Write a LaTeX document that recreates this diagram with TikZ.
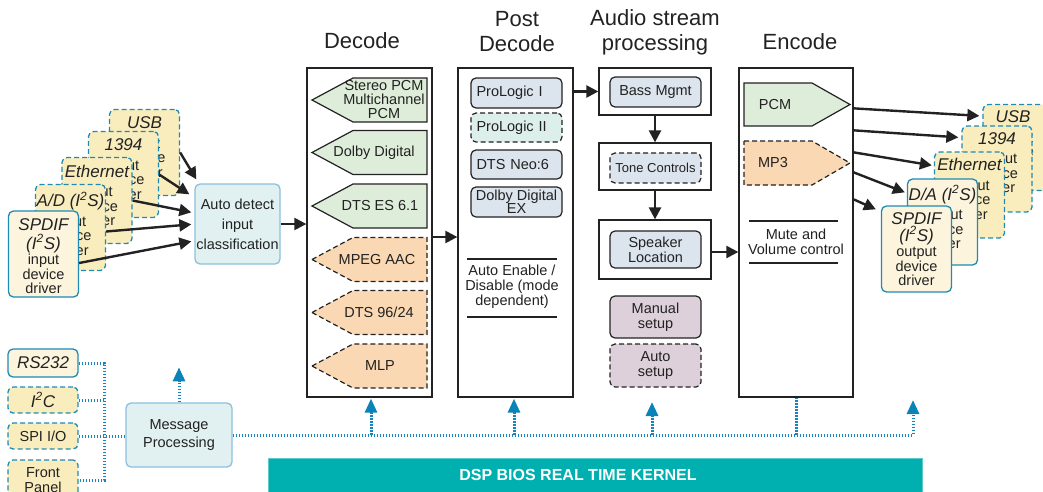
\documentclass[tikz,border=0pt]{standalone}
\usepackage{fontspec}
\setmainfont{Liberation Sans}
\usetikzlibrary{arrows.meta,calc}
\definecolor{cardyellow}{HTML}{F9EDBE}
\definecolor{cardcream}{HTML}{FCF4DC}
\definecolor{cardblue}{HTML}{1E8BB5}
\definecolor{lcyan}{HTML}{E1F0F0}
\definecolor{lblue}{HTML}{8CC0E0}
\definecolor{pgreen}{HTML}{DEEDD9}
\definecolor{porange}{HTML}{FAD8B3}
\definecolor{postblue}{HTML}{DCE4EE}
\definecolor{postgreen}{HTML}{DDEFEA}
\definecolor{mauve}{HTML}{DED0DB}
\definecolor{kteal}{HTML}{00AFAF}
\definecolor{kborder}{HTML}{5CC8C8}
\definecolor{dotblue}{HTML}{1884BC}
\definecolor{tipblue}{HTML}{0A84B8}
\definecolor{ink}{HTML}{222222}
\newcommand\ctitle{\fontsize{17}{18}\selectfont\itshape}
\begin{document}
\begin{tikzpicture}[x=1pt,y=-1pt,
  font=\fontsize{14.5}{15.5}\selectfont, text=ink,
  card/.style={draw=cardblue, line width=1.3pt, rounded corners=5pt, minimum width=70pt, minimum height=86pt, inner sep=0pt},
  dcard/.style={card, dashed, dash pattern=on 5pt off 3pt, fill=cardyellow},
  scard/.style={card, fill=cardcream},
  clabel/.style={anchor=north, align=center, inner sep=0pt, font=\fontsize{14.5}{14.5}\selectfont},
  ttl/.style={font=\fontsize{17}{18}\selectfont\itshape},
  blk/.style={draw=ink, line width=2.4pt, -{Triangle[width=12pt,length=12pt]}},
  bus/.style={draw=dotblue, line width=3pt, dash pattern=on 1.8pt off 1.2pt},
  busarrow/.style={bus, -{Triangle[width=12pt,length=14pt,color=tipblue]}},
  col/.style={draw=ink, line width=1.3pt, inner sep=0pt, minimum height=329pt, fill=white},
  gp/.style={draw=ink, line width=1.2pt, fill=pgreen},
  op/.style={draw=ink, line width=1.2pt, fill=porange, dash pattern=on 5pt off 3pt},
  pitem/.style={draw=ink, line width=1.2pt, rounded corners=5pt, fill=postblue, minimum width=91pt, inner sep=0pt},
  abox/.style={draw=ink, line width=1.3pt, minimum width=112pt, inner sep=0pt},
  soft/.style={draw=lblue, line width=1.3pt, rounded corners=5pt, fill=lcyan, inner sep=0pt, align=center},
  small/.style={draw=cardblue, line width=1.3pt, rounded corners=5pt, minimum width=70pt, inner sep=0pt},
  ttext/.style={font=\fontsize{22}{25}\selectfont, align=center}
]
\useasboundingbox (0,0) rectangle (1043,491);
\clip (0,0) rectangle (1043,491);

% titles
\node[ttext] (tdec) at (362,41) {Decode};
\node[ttext] (tpost) at (517,32) {Post\\Decode};
\node[ttext] (taud) at (655,32) {Audio stream\\processing};
\node[ttext] (tenc) at (800,42) {Encode};

% input cards
\node[dcard] (iUSB) at (144.5,152.5) {};
\node[clabel] (lUSB) at ([yshift=-8]iUSB.north) {{\ctitle USB}\\[5pt]input\\device\\driver};
\node[dcard] (i1394) at (123.5,174.5) {};
\node[clabel] (l1394) at ([yshift=-8]i1394.north) {{\ctitle 1394}\\[5pt]input\\device\\driver};
\node[dcard] (iEth) at (97,200.5) {};
\node[clabel] (lEth) at ([yshift=-8]iEth.north) {{\ctitle Ethernet}\\[5pt]input\\device\\driver};
\node[dcard] (iAD) at (70.5,227.5) {};
\node[clabel] (lAD) at ([yshift=-8]iAD.north) {{\ctitle A/D (I\textsuperscript{2}S)}\\[5pt]input\\device\\driver};
\node[scard] (iSP) at (43.5,254) {};
\node[clabel] (lSP) at ([yshift=-8]iSP.north) {{\ctitle SPDIF}\\[3pt]{\ctitle (I\textsuperscript{2}S)}\\[1pt]input\\device\\driver};

% auto detect
\node[soft, minimum width=85pt, minimum height=80pt, font=\fontsize{14.5}{20}\selectfont] (auto) at (237.5,224) {Auto detect\\input\\classification};

\draw[blk] (iUSB.east) -- ($(auto.north west)+(2,-4)$);
\draw[blk] (i1394.east) -- ($(auto.north west)+(-5,11)$);
\draw[blk] (iEth.east) -- ($(auto.north west)+(-3,29)$);
\draw[blk] ([yshift=-4]iAD.east) -- ($(auto.north west)+(-3,41)$);
\draw[blk] ([yshift=-9]iSP.east) -- ($(auto.north west)+(-3,58)$);

% columns
\node[col, minimum width=125pt] (dec) at (369.5,232.5) {};
\node[col, minimum width=115pt] (post) at (515.5,232.5) {};
\node[col, minimum width=114pt] (enc) at (796,232.5) {};

\draw[blk] (auto.east) -- (auto.east -| dec.west);
\draw[blk] ([yshift=-4.5]dec.east) -- ([yshift=-4.5]post.west);

% decode items
\draw[gp] (312,100) -- (353,78) -- (427,78) -- (427,122) -- (353,122) -- cycle;
\node[align=center, font=\fontsize{14.5}{14}\selectfont] (dpcm) at (384,100) {Stereo PCM\\Multichannel\\PCM};
\draw[gp] (312,152.5) -- (353,130.5) -- (427,130.5) -- (427,174.5) -- (353,174.5) -- cycle;
\node (ddd) at (374,152.5) {Dolby Digital};
\draw[gp] (312,206) -- (353,184) -- (427,184) -- (427,228) -- (353,228) -- cycle;
\node (ddts) at (380,206) {DTS ES 6.1};
\draw[op] (312,259.5) -- (353,237.5) -- (427,237.5) -- (427,281.5) -- (353,281.5) -- cycle;
\node (daac) at (377,259.5) {MPEG AAC};
\draw[op] (312,312.5) -- (353,290.5) -- (427,290.5) -- (427,334.5) -- (353,334.5) -- cycle;
\node (d96) at (379,312.5) {DTS 96/24};
\draw[op] (312,366) -- (353,344) -- (427,344) -- (427,388) -- (353,388) -- cycle;
\node (dmlp) at (380,366) {MLP};

% post decode items
\node[pitem, minimum height=30pt, text width=80pt, align=left] (pl1) at (516.5,93) {ProLogic I};
\node[pitem, minimum height=29pt, text width=80pt, align=left, dashed, dash pattern=on 5pt off 3pt, fill=postgreen] (pl2) at (516.5,127.5) {ProLogic II};
\node[pitem, minimum height=29pt, text width=80pt, align=left] (neo) at (516.5,164.5) {DTS Neo:6};
\node[pitem, minimum height=30pt, align=center, font=\fontsize{14.5}{13}\selectfont] (ddex) at (516.5,202) {Dolby Digital\\EX};
\draw[draw=ink, line width=1.2pt] (467,259) -- (557,259);
\draw[draw=ink, line width=1.2pt] (467,317) -- (557,317);
\node[align=center, font=\fontsize{14.5}{15}\selectfont] (autoen) at (512,287) {Auto Enable /\\Disable (mode\\dependent)};

% audio stream processing
\node[abox, minimum height=47pt] (a1) at (655,91.5) {};
\node[pitem, minimum height=30pt] (bass) at (655.5,92) {Bass Mgmt};
\node[abox, minimum height=47pt] (a2) at (655,166.5) {};
\node[pitem, minimum height=30pt, dashed, dash pattern=on 5pt off 3pt, font=\fontsize{13}{14}\selectfont] (tone) at (655.5,168) {Tone Controls};
\node[abox, minimum height=59pt] (a3) at (655,249.5) {};
\node[pitem, minimum height=37pt, align=center, font=\fontsize{14.5}{15}\selectfont] (spk) at (655.5,249.5) {Speaker\\Location};
\node[pitem, minimum height=42pt, fill=mauve, align=center, font=\fontsize{14.5}{15}\selectfont] (manual) at (655.5,317) {Manual\\setup};
\node[pitem, minimum height=43pt, fill=mauve, dashed, dash pattern=on 5pt off 3pt, align=center, font=\fontsize{14.5}{15}\selectfont] (autos) at (655.5,365.5) {Auto\\setup};

\draw[blk] (post.east |- a1.west) -- (a1.west);
\draw[blk] (a1.south) -- (a2.north);
\draw[blk] (a2.south) -- (a3.north);
\draw[blk] ([yshift=-2.5]a3.east) -- ([yshift=-2.5]a3.east -| enc.west);

% encode items
\draw[gp] (744,83) -- (812,83) -- (850,104.5) -- (812,126) -- (744,126) -- cycle;
\node (epcm) at (775,104.5) {PCM};
\draw[op] (744,141) -- (812,141) -- (850,163) -- (812,185) -- (744,185) -- cycle;
\node (emp3) at (773,163) {MP3};
\draw[draw=ink, line width=1.2pt] (749,221) -- (838,221);
\draw[draw=ink, line width=1.2pt] (749,263) -- (838,263);
\node[align=center, font=\fontsize{14.5}{15}\selectfont] (mute) at (796,242) {Mute and\\Volume control};

% output cards
\node[dcard] (oUSB) at (1018,147.5) {};
\node[clabel] (loUSB) at ([yshift=-7,xshift=-5]oUSB.north) {{\ctitle USB}\\[5pt]output\\device\\driver};
\node[dcard] (o1394) at (997,169) {};
\node[clabel] (lo1394) at ([yshift=-7]o1394.north) {{\ctitle 1394}\\[5pt]output\\device\\driver};
\node[dcard] (oEth) at (969.5,195) {};
\node[clabel] (loEth) at ([yshift=-7]oEth.north) {{\ctitle Ethernet}\\[5pt]output\\device\\driver};
\node[scard] (oDA) at (942.5,222) {};
\node[clabel] (loDA) at ([yshift=-7]oDA.north) {{\ctitle D/A (I\textsuperscript{2}S)}\\[5pt]output\\device\\driver};
\node[scard] (oSP) at (916.5,249) {};
\node[clabel] (loSP) at ([yshift=-7]oSP.north) {{\ctitle SPDIF}\\[1pt]{\ctitle (I\textsuperscript{2}S)}\\[1pt]output\\device\\driver};

\draw[blk] ($(enc.north east)+(0,41)$) -- ($(oUSB.north west)+(-3,12)$);
\draw[blk] ($(enc.north east)+(0,63)$) -- ($(o1394.north west)+(-3,12)$);
\draw[blk] ($(enc.north east)+(0,85)$) -- ($(oEth.north west)+(-2,14)$);
\draw[blk] ($(enc.north east)+(0,105)$) -- ($(oDA.north west)+(-2,14)$);
\draw[blk] ($(enc.north east)+(0,132)$) -- ($(oSP.north west)+(-5,4)$);

% bottom left control inputs
\node[small, fill=cardcream, minimum height=28pt, ttl] (rs) at (43,363) {RS232};
\node[small, fill=cardyellow, dashed, dash pattern=on 5pt off 3pt, minimum height=26pt, ttl] (i2c) at (43,400) {I\textsuperscript{2}C};
\node[small, fill=cardyellow, dashed, dash pattern=on 5pt off 3pt, minimum height=26pt] (spi) at (43,436) {SPI I/O};
\node[small, fill=cardyellow, dashed, dash pattern=on 5pt off 3pt, minimum height=40pt, align=center, font=\fontsize{14.5}{15.5}\selectfont] (fp) at (43,480) {Front\\Panel};

\node[soft, minimum width=106pt, minimum height=64pt, font=\fontsize{14.5}{18}\selectfont] (msg) at (179,435) {Message\\Processing};

\coordinate (lbus) at (104,363);
\draw[bus] (rs.east) -- (rs.east -| lbus) -- (lbus |- fp.east) -- (fp.east);
\draw[bus] (i2c.east) -- (i2c.east -| lbus);
\draw[bus] (spi.east) -- (spi.east -| msg.west);
\draw[busarrow] (msg.north) -- ++(0,-35);

% kernel
\node[fill=kteal, draw=kborder, line width=0.8pt, minimum width=654pt, minimum height=40pt, anchor=north west, inner sep=0pt] (kernel) at (268,458) {};
\node[text=white, font=\bfseries\fontsize{16}{16}\selectfont] (ktext) at (578,474.5) {DSP BIOS REAL TIME KERNEL};

% message bus
\coordinate (busend) at (913,435);
\draw[busarrow] (msg.east) -- (busend) -- ++(0,-35);
\draw[busarrow] ([xshift=1.5]dec.south |- msg.east) -- ([xshift=1.5,yshift=-1]dec.south);
\draw[busarrow] ([xshift=-1.5]post.south |- msg.east) -- ([xshift=-1.5,yshift=-1]post.south);
\draw[busarrow] ([xshift=-3]a3.south |- msg.east) -- ++(0,-33);
\draw[bus] (enc.south |- msg.east) -- (enc.south);
\end{tikzpicture}
\end{document}
